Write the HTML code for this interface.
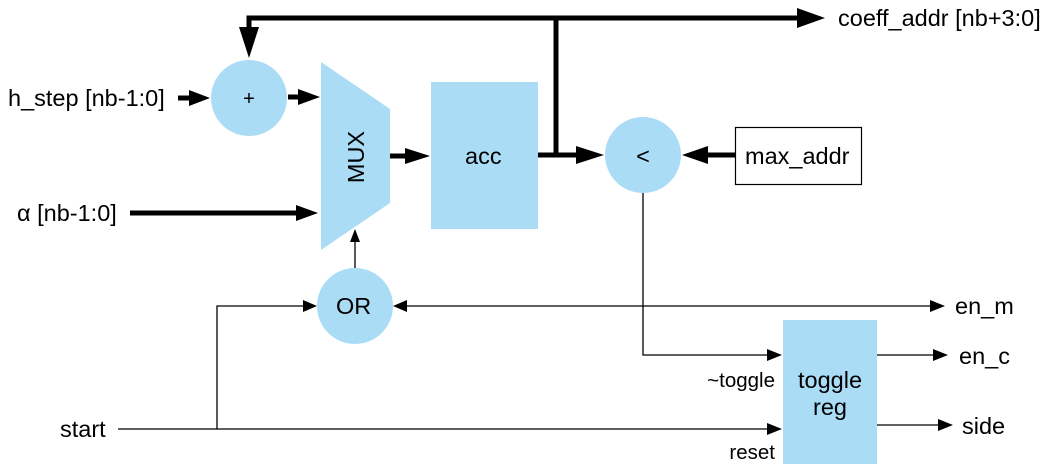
<!DOCTYPE html>
<html><head><meta charset="utf-8"><style>
body{margin:0;background:#fff;}
svg{display:block;font-family:"Liberation Sans",sans-serif;}
</style></head><body>
<svg width="1055" height="467" viewBox="0 0 1055 467" xmlns="http://www.w3.org/2000/svg">
<g fill="#aadcf6">
<circle cx="249" cy="98" r="38"/>
<polygon points="321,62 390,109 390,203 321,250"/>
<rect x="431" y="82" width="107" height="147"/>
<circle cx="643" cy="155" r="38"/>
<circle cx="355" cy="306" r="38"/>
<rect x="783" y="320" width="94" height="144"/>
</g>
<rect x="735.5" y="127.5" width="126" height="57" fill="#fff" stroke="#000" stroke-width="1.2"/>
<g stroke="#000" stroke-width="5" fill="none">
<polyline points="249,40 249,18 800,18"/>
<line x1="556" y1="18" x2="556" y2="155"/>
<line x1="178" y1="98" x2="190" y2="98"/>
<line x1="288" y1="97" x2="300" y2="97"/>
<line x1="130" y1="213" x2="298" y2="213"/>
<line x1="390" y1="156" x2="410" y2="156"/>
<line x1="538" y1="155" x2="580" y2="155"/>
<line x1="735" y1="155" x2="705" y2="155"/>
</g>
<g fill="#000">
<polygon points="239,27 259,27 249,58"/>
<polygon points="797,8 797,28 825,18"/>
<polygon points="189,90 189,106 210,98"/>
<polygon points="298,89 298,105 320,97"/>
<polygon points="296,205 296,221 318,213"/>
<polygon points="405,148 405,164 430,156"/>
<polygon points="576,146 576,164 604,155"/>
<polygon points="708,146 708,164 682,155"/>
</g>
<g stroke="#000" stroke-width="1.3" fill="none">
<line x1="355" y1="268" x2="355" y2="240"/>
<polyline points="118,429 770,429"/>
<polyline points="217,429 217,306 305,306"/>
<line x1="405" y1="306" x2="932" y2="306"/>
<polyline points="643,193 643,355 768,355"/>
<line x1="877" y1="355" x2="935" y2="355"/>
<line x1="877" y1="425" x2="940" y2="425"/>
</g>
<g fill="#000">
<polygon points="350,242 360,242 355,229"/>
<polygon points="303,300 303,312 317,306"/>
<polygon points="407,300 407,312 393,306"/>
<polygon points="930,300 930,312 945,306"/>
<polygon points="767,349 767,361 782,355"/>
<polygon points="767,423 767,435 782,429"/>
<polygon points="933,349 933,361 948,355"/>
<polygon points="938,419 938,431 953,425"/>
</g>
<g font-size="23.5" fill="#000">
<text x="8" y="106">h_step [nb-1:0]</text>
<text x="17" y="221">α [nb-1:0]</text>
<text x="838" y="26">coeff_addr [nb+3:0]</text>
<text x="745" y="164">max_addr</text>
<text x="955" y="314">en_m</text>
<text x="959" y="364">en_c</text>
<text x="962" y="434">side</text>
<text x="60" y="437">start</text>
<text x="465" y="164">acc</text>
<text x="336" y="314">OR</text>
<text x="830" y="388" text-anchor="middle">toggle</text>
<text x="830" y="415" text-anchor="middle">reg</text>
<text x="643" y="164" text-anchor="middle">&lt;</text>
<text x="249" y="105" text-anchor="middle" font-size="20">+</text>
<text transform="translate(364,157) rotate(-90)" text-anchor="middle">MUX</text>
</g>
<g font-size="20.5" fill="#000">
<text x="775" y="387" text-anchor="end">~toggle</text>
<text x="775" y="459" text-anchor="end">reset</text>
</g>
</svg>
</body></html>
